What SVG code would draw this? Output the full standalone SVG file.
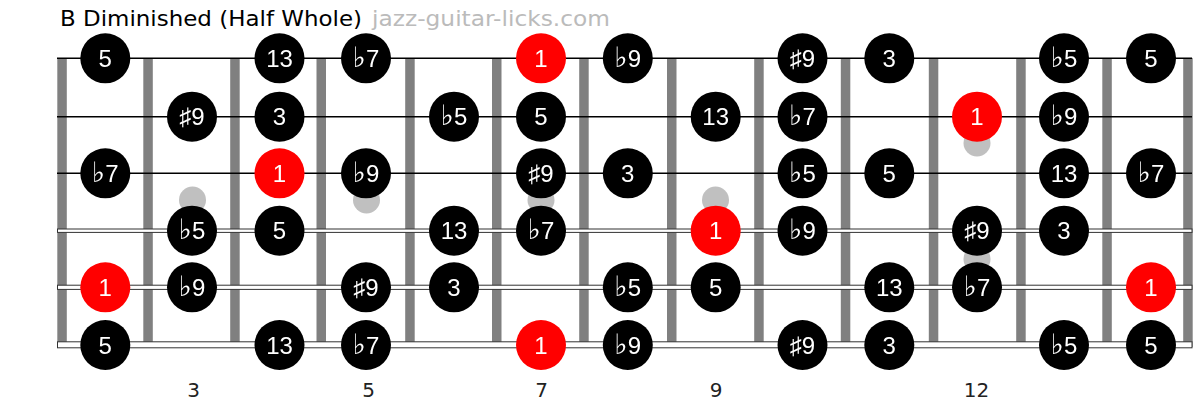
<svg xmlns="http://www.w3.org/2000/svg" width="1201" height="401" viewBox="0 0 1201 401">
<defs>
<filter id="gray" x="-10%" y="-10%" width="120%" height="120%" color-interpolation-filters="sRGB"><feOffset dx="0" dy="0"/></filter>
</defs>
<style>
.fret{fill:#808080}
.thin{stroke:#000;stroke-width:1.5}
.wound{fill:#fff;stroke:#333;stroke-width:1}
.dot{fill:#c0c0c0}
.n circle{fill:#000}
.n.root circle{fill:#ff0000}
.n text{fill:#fff;font-family:"Liberation Sans","DejaVu Sans",sans-serif;font-size:24px;text-anchor:middle}
.fl{font-family:"DejaVu Sans",sans-serif;font-size:28px}
.num{fill:#222;font-family:"DejaVu Sans",sans-serif;font-size:20px;text-anchor:middle}
</style>
<rect width="1201" height="401" fill="#fff"/>
<text x="60" y="26" font-family="DejaVu Sans, sans-serif" font-size="22" fill="#000" textLength="302" lengthAdjust="spacingAndGlyphs">B Diminished (Half Whole)</text>
<text x="372" y="26" font-family="DejaVu Sans, sans-serif" font-size="22" fill="#bbbbbb" textLength="238" lengthAdjust="spacingAndGlyphs">jazz-guitar-licks.com</text>
<g id="frets">
<rect class="fret" x="57.3" y="58" width="9.5" height="289"/>
<rect class="fret" x="143.3" y="58" width="9.5" height="289"/>
<rect class="fret" x="230.2" y="58" width="9.5" height="289"/>
<rect class="fret" x="316.5" y="58" width="9.5" height="289"/>
<rect class="fret" x="405.2" y="58" width="9.5" height="289"/>
<rect class="fret" x="492" y="58" width="9.5" height="289"/>
<rect class="fret" x="579.2" y="58" width="9.5" height="289"/>
<rect class="fret" x="667" y="58" width="9.5" height="289"/>
<rect class="fret" x="754.2" y="58" width="9.5" height="289"/>
<rect class="fret" x="840.8" y="58" width="9.5" height="289"/>
<rect class="fret" x="928.8" y="58" width="9.5" height="289"/>
<rect class="fret" x="1016.2" y="58" width="9.5" height="289"/>
<rect class="fret" x="1102.3" y="58" width="9.5" height="289"/>
<rect class="fret" x="1183.2" y="58" width="9.5" height="289"/>
</g>
<g id="strings">
<line class="thin" x1="57" y1="58.3" x2="1192" y2="58.3"/>
<line class="thin" x1="57" y1="116.7" x2="1192" y2="116.7"/>
<line class="thin" x1="57" y1="173.3" x2="1192" y2="173.3"/>
<rect class="wound" x="57.5" y="229" width="1134.5" height="3.4"/>
<rect class="wound" x="57.5" y="285.2" width="1134.5" height="4.2"/>
<rect class="wound" x="57.5" y="341.8" width="1134.5" height="6"/>
</g>
<g id="markers">
<circle class="dot" cx="192.5" cy="200" r="13.5"/>
<circle class="dot" cx="366.5" cy="200" r="13.5"/>
<circle class="dot" cx="541" cy="200" r="13.5"/>
<circle class="dot" cx="715.5" cy="200" r="13.5"/>
<circle class="dot" cx="977" cy="143" r="13.5"/>
<circle class="dot" cx="977" cy="259" r="13.5"/>
</g>
<g id="notes" filter="url(#gray)">
<g id="s1f2" class="n"><circle cx="105.3" cy="58.3" r="25"/><text x="105.3" y="66.8">5</text></g>
<g id="s1f4" class="n"><circle cx="279.5" cy="58.3" r="25"/><text x="279.5" y="66.8">13</text></g>
<g id="s1f5" class="n"><circle cx="366" cy="58.3" r="25"/><text x="366" y="66.8"><tspan class="fl">♭</tspan>7</text></g>
<g id="s1f7" class="n root"><circle cx="541" cy="58.3" r="25"/><text x="541" y="66.8">1</text></g>
<g id="s1f8" class="n"><circle cx="627.8" cy="58.3" r="25"/><text x="627.8" y="66.8"><tspan class="fl">♭</tspan>9</text></g>
<g id="s1f10" class="n"><circle cx="802.5" cy="58.3" r="25"/><text x="802.5" y="66.8">♯9</text></g>
<g id="s1f11" class="n"><circle cx="889.3" cy="58.3" r="25"/><text x="889.3" y="66.8">3</text></g>
<g id="s1f13" class="n"><circle cx="1064" cy="58.3" r="25"/><text x="1064" y="66.8"><tspan class="fl">♭</tspan>5</text></g>
<g id="s1f14" class="n"><circle cx="1151" cy="58.3" r="25"/><text x="1151" y="66.8">5</text></g>

<g id="s2f3" class="n"><circle cx="192" cy="116.7" r="25"/><text x="192" y="125.2">♯9</text></g>
<g id="s2f4" class="n"><circle cx="279.5" cy="116.7" r="25"/><text x="279.5" y="125.2">3</text></g>
<g id="s2f6" class="n"><circle cx="454" cy="116.7" r="25"/><text x="454" y="125.2"><tspan class="fl">♭</tspan>5</text></g>
<g id="s2f7" class="n"><circle cx="541" cy="116.7" r="25"/><text x="541" y="125.2">5</text></g>
<g id="s2f9" class="n"><circle cx="715.7" cy="116.7" r="25"/><text x="715.7" y="125.2">13</text></g>
<g id="s2f10" class="n"><circle cx="802.5" cy="116.7" r="25"/><text x="802.5" y="125.2"><tspan class="fl">♭</tspan>7</text></g>
<g id="s2f12" class="n root"><circle cx="977" cy="116.7" r="25"/><text x="977" y="125.2">1</text></g>
<g id="s2f13" class="n"><circle cx="1064" cy="116.7" r="25"/><text x="1064" y="125.2"><tspan class="fl">♭</tspan>9</text></g>

<g id="s3f2" class="n"><circle cx="105.3" cy="173.3" r="25"/><text x="105.3" y="181.8"><tspan class="fl">♭</tspan>7</text></g>
<g id="s3f4" class="n root"><circle cx="279.5" cy="173.3" r="25"/><text x="279.5" y="181.8">1</text></g>
<g id="s3f5" class="n"><circle cx="366" cy="173.3" r="25"/><text x="366" y="181.8"><tspan class="fl">♭</tspan>9</text></g>
<g id="s3f7" class="n"><circle cx="541" cy="173.3" r="25"/><text x="541" y="181.8">♯9</text></g>
<g id="s3f8" class="n"><circle cx="627.8" cy="173.3" r="25"/><text x="627.8" y="181.8">3</text></g>
<g id="s3f10" class="n"><circle cx="802.5" cy="173.3" r="25"/><text x="802.5" y="181.8"><tspan class="fl">♭</tspan>5</text></g>
<g id="s3f11" class="n"><circle cx="889.3" cy="173.3" r="25"/><text x="889.3" y="181.8">5</text></g>
<g id="s3f13" class="n"><circle cx="1064" cy="173.3" r="25"/><text x="1064" y="181.8">13</text></g>
<g id="s3f14" class="n"><circle cx="1151" cy="173.3" r="25"/><text x="1151" y="181.8"><tspan class="fl">♭</tspan>7</text></g>

<g id="s4f3" class="n"><circle cx="192" cy="230.7" r="25"/><text x="192" y="239.2"><tspan class="fl">♭</tspan>5</text></g>
<g id="s4f4" class="n"><circle cx="279.5" cy="230.7" r="25"/><text x="279.5" y="239.2">5</text></g>
<g id="s4f6" class="n"><circle cx="454" cy="230.7" r="25"/><text x="454" y="239.2">13</text></g>
<g id="s4f7" class="n"><circle cx="541" cy="230.7" r="25"/><text x="541" y="239.2"><tspan class="fl">♭</tspan>7</text></g>
<g id="s4f9" class="n root"><circle cx="715.7" cy="230.7" r="25"/><text x="715.7" y="239.2">1</text></g>
<g id="s4f10" class="n"><circle cx="802.5" cy="230.7" r="25"/><text x="802.5" y="239.2"><tspan class="fl">♭</tspan>9</text></g>
<g id="s4f12" class="n"><circle cx="977" cy="230.7" r="25"/><text x="977" y="239.2">♯9</text></g>
<g id="s4f13" class="n"><circle cx="1064" cy="230.7" r="25"/><text x="1064" y="239.2">3</text></g>

<g id="s5f2" class="n root"><circle cx="105.3" cy="287.3" r="25"/><text x="105.3" y="295.8">1</text></g>
<g id="s5f3" class="n"><circle cx="192" cy="287.3" r="25"/><text x="192" y="295.8"><tspan class="fl">♭</tspan>9</text></g>
<g id="s5f5" class="n"><circle cx="366" cy="287.3" r="25"/><text x="366" y="295.8">♯9</text></g>
<g id="s5f6" class="n"><circle cx="454" cy="287.3" r="25"/><text x="454" y="295.8">3</text></g>
<g id="s5f8" class="n"><circle cx="627.8" cy="287.3" r="25"/><text x="627.8" y="295.8"><tspan class="fl">♭</tspan>5</text></g>
<g id="s5f9" class="n"><circle cx="715.7" cy="287.3" r="25"/><text x="715.7" y="295.8">5</text></g>
<g id="s5f11" class="n"><circle cx="889.3" cy="287.3" r="25"/><text x="889.3" y="295.8">13</text></g>
<g id="s5f12" class="n"><circle cx="977" cy="287.3" r="25"/><text x="977" y="295.8"><tspan class="fl">♭</tspan>7</text></g>
<g id="s5f14" class="n root"><circle cx="1151" cy="287.3" r="25"/><text x="1151" y="295.8">1</text></g>

<g id="s6f2" class="n"><circle cx="105.3" cy="345" r="25"/><text x="105.3" y="353.5">5</text></g>
<g id="s6f4" class="n"><circle cx="279.5" cy="345" r="25"/><text x="279.5" y="353.5">13</text></g>
<g id="s6f5" class="n"><circle cx="366" cy="345" r="25"/><text x="366" y="353.5"><tspan class="fl">♭</tspan>7</text></g>
<g id="s6f7" class="n root"><circle cx="541" cy="345" r="25"/><text x="541" y="353.5">1</text></g>
<g id="s6f8" class="n"><circle cx="627.8" cy="345" r="25"/><text x="627.8" y="353.5"><tspan class="fl">♭</tspan>9</text></g>
<g id="s6f10" class="n"><circle cx="802.5" cy="345" r="25"/><text x="802.5" y="353.5">♯9</text></g>
<g id="s6f11" class="n"><circle cx="889.3" cy="345" r="25"/><text x="889.3" y="353.5">3</text></g>
<g id="s6f13" class="n"><circle cx="1064" cy="345" r="25"/><text x="1064" y="353.5"><tspan class="fl">♭</tspan>5</text></g>
<g id="s6f14" class="n"><circle cx="1151" cy="345" r="25"/><text x="1151" y="353.5">5</text></g>
</g>
<g id="fret-numbers">
<text class="num" x="193.5" y="397">3</text>
<text class="num" x="368.5" y="397">5</text>
<text class="num" x="541.5" y="397">7</text>
<text class="num" x="716" y="397">9</text>
<text class="num" x="976.5" y="397">12</text>
</g>
</svg>
